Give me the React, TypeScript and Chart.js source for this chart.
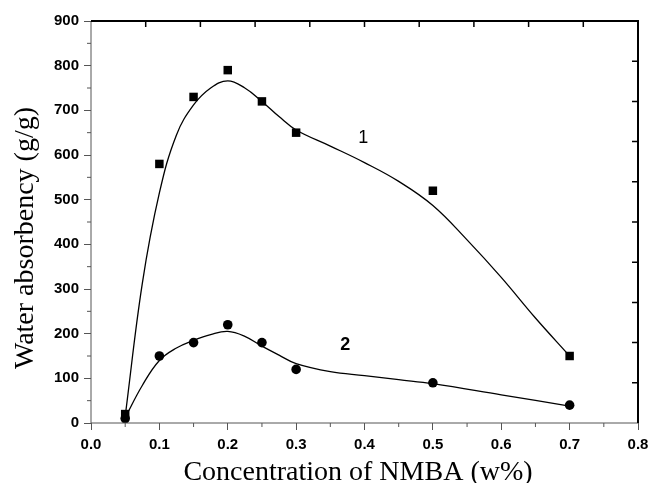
import React, { useEffect, useRef } from 'react';
import { Chart, registerables } from 'chart.js';

Chart.register(...registerables);

// Measured data
const concentration = [0.05, 0.1, 0.15, 0.2, 0.25, 0.3, 0.5, 0.7];
const absorbency1 = [20, 580, 730, 790, 720, 650, 520, 150];
const absorbency2 = [10, 150, 180, 220, 180, 120, 90, 40];

// Fitted curves
const fitX1 = [0.05, 0.075, 0.1, 0.125, 0.15, 0.175, 0.2, 0.225, 0.25, 0.275, 0.3, 0.35, 0.4, 0.45, 0.5, 0.55, 0.6, 0.65, 0.7];
const fitY1 = [15, 312, 515, 645, 712, 750, 766, 750, 720, 686, 656, 620, 583, 541, 487, 410, 326, 235, 150];
const fitX2 = [0.05, 0.075, 0.1, 0.125, 0.15, 0.175, 0.2, 0.225, 0.25, 0.275, 0.3, 0.35, 0.4, 0.45, 0.5, 0.6, 0.7];
const fitY2 = [12, 84, 140, 168, 185, 198, 205, 194, 172, 152, 133, 115, 106, 97, 88, 63, 38];

// Curve labels (data coordinates)
const curveLabels = ['1', '2'];
const curveLabelX = [0.398, 0.372];
const curveLabelY = [638, 174];

const xTitle = 'Concentration of NMBA (w%)';
const yTitle = 'Water absorbency (g/g)';

const xMin = 0, xMax = 0.8, xStep = 0.1;
const yMin = 0, yMax = 900, yStep = 100;

const framePlugin = {
  id: 'frame',
  afterDraw(chart: any) {
    const { ctx, chartArea } = chart;
    const { left, right, top, bottom } = chartArea;
    const xs = chart.scales.x;
    const ys = chart.scales.y;
    ctx.save();
    ctx.strokeStyle = '#555';
    ctx.lineWidth = 1;
    ctx.beginPath();
    ctx.moveTo(left, top);
    ctx.lineTo(left, bottom);
    ctx.lineTo(right, bottom);
    ctx.stroke();
    ctx.strokeStyle = '#000';
    ctx.lineWidth = 2;
    ctx.beginPath();
    ctx.moveTo(left, top);
    ctx.lineTo(right, top);
    ctx.lineTo(right, bottom);
    ctx.stroke();
    ctx.lineWidth = 1.5;
    ctx.beginPath();
    for (let i = 1; i < 10; i++) {
      const xv = xMin + ((xMax - xMin) * i) / 10;
      const px = xs.getPixelForValue(xv);
      ctx.moveTo(px, top);
      ctx.lineTo(px, top + 6);
      const yv = yMin + ((yMax - yMin) * i) / 10;
      const py = ys.getPixelForValue(yv);
      ctx.moveTo(right, py);
      ctx.lineTo(right - 6, py);
    }
    ctx.stroke();
    ctx.strokeStyle = '#555';
    ctx.lineWidth = 1;
    ctx.beginPath();
    for (let v = yMin + yStep / 2; v < yMax; v += yStep) {
      const py = ys.getPixelForValue(v);
      ctx.moveTo(left, py);
      ctx.lineTo(left - 4, py);
    }
    for (let v = xMin + xStep / 2; v < xMax; v += xStep) {
      const px = xs.getPixelForValue(v);
      ctx.moveTo(px, bottom);
      ctx.lineTo(px, bottom + 4);
    }
    ctx.stroke();

    ctx.fillStyle = '#000';
    ctx.font = '28px "Liberation Serif", "Times New Roman", serif';
    ctx.textAlign = 'center';
    ctx.textBaseline = 'alphabetic';
    ctx.fillText(xTitle, 358, 480);
    ctx.save();
    ctx.translate(33, 238);
    ctx.rotate(-Math.PI / 2);
    ctx.fillText(yTitle, 0, 0);
    ctx.restore();

    ctx.textBaseline = 'middle';
    curveLabels.forEach((t, i) => {
      ctx.font = (i === 1 ? 'bold ' : '') + '18px "Liberation Sans", Arial, sans-serif';
      ctx.fillText(t, xs.getPixelForValue(curveLabelX[i]), ys.getPixelForValue(curveLabelY[i]));
    });
    ctx.restore();
  },
};

export default function App() {
  const ref = useRef<HTMLCanvasElement | null>(null);
  useEffect(() => {
    if (!ref.current) return;
    const tickFont = { family: '"Liberation Sans", Arial, sans-serif', size: 15, weight: 'bold' as const };
    const chart = new Chart(ref.current, {
      type: 'scatter',
      data: {
        datasets: [
          {
            label: 'fit 1',
            data: fitX1.map((x, i) => ({ x, y: fitY1[i] })),
            showLine: true,
            borderColor: '#000',
            borderWidth: 1.3,
            pointRadius: 0,
            tension: 0.4,
            order: 2,
          },
          {
            label: 'fit 2',
            data: fitX2.map((x, i) => ({ x, y: fitY2[i] })),
            showLine: true,
            borderColor: '#000',
            borderWidth: 1.3,
            pointRadius: 0,
            tension: 0.4,
            order: 2,
          },
          {
            label: '1',
            data: concentration.map((x, i) => ({ x, y: absorbency1[i] })),
            pointStyle: 'rect',
            pointRadius: 6,
            backgroundColor: '#000',
            borderColor: '#000',
            borderWidth: 0,
            order: 1,
          },
          {
            label: '2',
            data: concentration.map((x, i) => ({ x, y: absorbency2[i] })),
            pointStyle: 'circle',
            pointRadius: 4.8,
            backgroundColor: '#000',
            borderColor: '#000',
            borderWidth: 0,
            order: 1,
          },
        ],
      },
      options: {
        animation: false,
        responsive: true,
        maintainAspectRatio: false,
        layout: { padding: { top: 21, right: 11, left: 0, bottom: 0 } },
        plugins: { legend: { display: false }, tooltip: { enabled: false } },
        scales: {
          x: {
            type: 'linear',
            min: xMin,
            max: xMax,
            ticks: {
              stepSize: xStep,
              color: '#000',
              font: tickFont,
              padding: 6,
              maxRotation: 0,
              callback: (v: any) => Number(v).toFixed(1),
            },
            grid: { drawOnChartArea: false, tickLength: 7, color: '#555', tickWidth: 1 },
            border: { display: false },
            afterFit: (s: any) => { s.height = 60; s.paddingRight = 0; s.paddingLeft = 0; },
          },
          y: {
            type: 'linear',
            min: yMin,
            max: yMax,
            ticks: { stepSize: yStep, color: '#000', font: tickFont, padding: 5 },
            grid: { drawOnChartArea: false, tickLength: 7, color: '#555', tickWidth: 1 },
            border: { display: false },
            afterFit: (s: any) => { s.width = 91; s.paddingTop = 0; s.paddingBottom = 0; },
          },
        },
      },
      plugins: [framePlugin],
    });
    return () => chart.destroy();
  }, []);
  return (
    <div style={{ position: 'fixed', left: 0, top: 0, width: 649, height: 483, background: '#fff' }}>
      <canvas ref={ref} />
    </div>
  );
}
